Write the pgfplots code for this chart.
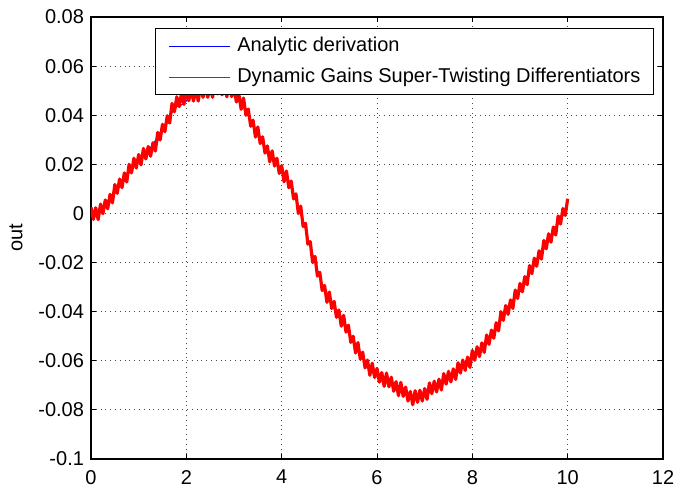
\documentclass[border=0pt]{standalone}
\usepackage{pgfplots}
\pgfplotsset{compat=1.18}
\usepackage{fontspec}
\setmainfont{Liberation Sans}
\usetikzlibrary{calc}
\begin{document}
\fontsize{10}{12}\selectfont
\begin{tikzpicture}
\begin{axis}[
  at={(0,0)}, anchor=south west,
  scale only axis,
  width=286pt, height=221pt,
  xmin=0, xmax=12, ymin=-0.1, ymax=0.08,
  xtick={0,2,4,6,8,10,12},
  ytick={-0.1,-0.08,-0.06,-0.04,-0.02,0,0.02,0.04,0.06,0.08},
  yticklabels={-0.1,-0.08,-0.06,-0.04,-0.02,0,0.02,0.04,0.06,0.08},
  /pgf/number format/assume math mode=true,
  tick align=inside, tick pos=both,
  major tick length=2.5pt,
  every tick/.style={black, line width=0.5pt},
  axis line style={black, line width=0.8pt},
  grid=major,
  grid style={dotted, black!70, line width=0.5pt},
  tick label style={font=\fontsize{10}{12}\selectfont},
  xticklabel style={yshift=-2pt},
  ylabel={out},
  every axis y label/.style={at={(axis description cs:-0.131,0.5)}, rotate=90, anchor=center, font=\fontsize{10}{12}\selectfont},
  legend cell align=left,
  legend image code/.code={\draw[#1, line width=0.5pt] (0pt,0pt) -- (30.5pt,0pt);},
  legend style={at={(rel axis cs:1,1)}, anchor=north east, xshift=-4.5pt, yshift=-5.5pt,
    draw=black, line width=0.6pt, fill=white, inner xsep=6.5pt, inner ysep=4pt,
    row sep=6pt, column sep=3.5pt,
    nodes={inner sep=0pt, text height=7.5pt, text depth=2pt, font=\fontsize{10}{12}\selectfont}},
]
\addplot[blue, line width=0.5pt] coordinates {
(0.0,0.0000)(0.1,0.0005)(0.2,0.0015)(0.3,0.0045)(0.4,0.0062)(0.5,0.0085)(0.6,0.0112)(0.7,0.0142)(0.8,0.0168)(0.9,0.0198)
(1.0,0.0218)(1.1,0.0236)(1.2,0.0255)(1.3,0.0282)(1.4,0.0312)(1.5,0.0342)(1.6,0.0378)(1.7,0.0412)(1.8,0.0435)(1.9,0.0442)
(2.0,0.0458)(2.1,0.0480)(2.2,0.0485)(2.3,0.0490)(2.4,0.0495)(2.5,0.0500)(2.6,0.0505)(2.7,0.0508)(2.8,0.0508)(2.9,0.0502)
(3.0,0.0490)(3.1,0.0468)(3.2,0.0440)(3.3,0.0400)(3.4,0.0360)(3.5,0.0322)(3.6,0.0287)(3.7,0.0255)(3.8,0.0225)(3.9,0.0200)
(4.0,0.0175)(4.1,0.0143)(4.2,0.0107)(4.3,0.0060)(4.4,0.0000)(4.5,-0.0065)(4.6,-0.0135)(4.7,-0.0198)(4.8,-0.0260)(4.9,-0.0310)
(5.0,-0.0350)(5.1,-0.0383)(5.2,-0.0413)(5.3,-0.0445)(5.4,-0.0480)(5.5,-0.0520)(5.6,-0.0556)(5.7,-0.0590)(5.8,-0.0617)(5.9,-0.0640)
(6.0,-0.0656)(6.1,-0.0668)(6.2,-0.0680)(6.3,-0.0692)(6.4,-0.0705)(6.5,-0.0718)(6.6,-0.0732)(6.7,-0.0745)(6.8,-0.0752)(6.9,-0.0745)
(7.0,-0.0733)(7.1,-0.0720)(7.2,-0.0708)(7.3,-0.0695)(7.4,-0.0682)(7.5,-0.0668)(7.6,-0.0653)(7.7,-0.0638)(7.8,-0.0622)(7.9,-0.0605)
(8.0,-0.0588)(8.1,-0.0568)(8.2,-0.0547)(8.3,-0.0525)(8.4,-0.0500)(8.5,-0.0465)(8.6,-0.0430)(8.7,-0.0400)(8.8,-0.0372)(8.9,-0.0342)
(9.0,-0.0310)(9.1,-0.0277)(9.2,-0.0242)(9.3,-0.0207)(9.4,-0.0172)(9.5,-0.0140)(9.6,-0.0108)(9.7,-0.0075)(9.8,-0.0040)(9.9,-0.0005)
(10.0,0.0040)
};
\addlegendentry{Analytic derivation}
\addplot[red, line width=1.6pt, line join=round] coordinates {
(0.00,0.0025)(0.05,-0.0024)(0.10,0.0023)(0.15,-0.0025)(0.20,0.0038)(0.25,-0.0001)(0.30,0.0055)(0.35,0.0019)(0.40,0.0078)(0.45,0.0043)
(0.50,0.0118)(0.55,0.0082)(0.60,0.0140)(0.65,0.0105)(0.70,0.0165)(0.75,0.0128)(0.80,0.0200)(0.85,0.0165)(0.90,0.0225)(0.95,0.0185)
(1.00,0.0240)(1.05,0.0198)(1.10,0.0265)(1.15,0.0222)(1.20,0.0273)(1.25,0.0233)(1.30,0.0288)(1.35,0.0254)(1.40,0.0330)(1.45,0.0299)
(1.50,0.0363)(1.55,0.0333)(1.60,0.0398)(1.65,0.0368)(1.70,0.0448)(1.75,0.0414)(1.80,0.0475)(1.85,0.0435)(1.90,0.0490)(1.95,0.0444)
(2.00,0.0508)(2.05,0.0459)(2.10,0.0505)(2.15,0.0458)(2.20,0.0505)(2.25,0.0458)(2.30,0.0520)(2.35,0.0473)(2.40,0.0520)(2.45,0.0473)
(2.50,0.0520)(2.55,0.0473)(2.60,0.0535)(2.65,0.0487)(2.70,0.0533)(2.75,0.0483)(2.80,0.0528)(2.85,0.0475)(2.90,0.0532)(2.95,0.0476)
(3.00,0.0515)(3.05,0.0454)(3.10,0.0488)(3.15,0.0424)(3.20,0.0470)(3.25,0.0400)(3.30,0.0425)(3.35,0.0355)(3.40,0.0380)(3.45,0.0311)
(3.50,0.0352)(3.55,0.0285)(3.60,0.0312)(3.65,0.0246)(3.70,0.0275)(3.75,0.0210)(3.80,0.0255)(3.85,0.0193)(3.90,0.0225)(3.95,0.0163)
(4.00,0.0195)(4.05,0.0129)(4.10,0.0173)(4.15,0.0105)(4.20,0.0132)(4.25,0.0059)(4.30,0.0080)(4.35,0.0000)(4.40,0.0030)(4.45,-0.0053)
(4.50,-0.0040)(4.55,-0.0125)(4.60,-0.0115)(4.65,-0.0200)(4.70,-0.0175)(4.75,-0.0255)(4.80,-0.0240)(4.85,-0.0314)(4.90,-0.0293)(4.95,-0.0362)
(5.00,-0.0320)(5.05,-0.0387)(5.10,-0.0358)(5.15,-0.0423)(5.20,-0.0393)(5.25,-0.0459)(5.30,-0.0415)(5.35,-0.0483)(5.40,-0.0455)(5.45,-0.0525)
(5.50,-0.0500)(5.55,-0.0568)(5.60,-0.0526)(5.65,-0.0593)(5.70,-0.0565)(5.75,-0.0629)(5.80,-0.0597)(5.85,-0.0659)(5.90,-0.0610)(5.95,-0.0668)
(6.00,-0.0631)(6.05,-0.0687)(6.10,-0.0648)(6.15,-0.0704)(6.20,-0.0650)(6.25,-0.0706)(6.30,-0.0667)(6.35,-0.0724)(6.40,-0.0685)(6.45,-0.0742)
(6.50,-0.0688)(6.55,-0.0745)(6.60,-0.0707)(6.65,-0.0764)(6.70,-0.0725)(6.75,-0.0779)(6.80,-0.0722)(6.85,-0.0769)(6.90,-0.0720)(6.95,-0.0764)
(7.00,-0.0713)(7.05,-0.0757)(7.10,-0.0690)(7.15,-0.0734)(7.20,-0.0683)(7.25,-0.0727)(7.30,-0.0675)(7.35,-0.0719)(7.40,-0.0652)(7.45,-0.0695)
(7.50,-0.0643)(7.55,-0.0686)(7.60,-0.0633)(7.65,-0.0676)(7.70,-0.0608)(7.75,-0.0650)(7.80,-0.0597)(7.85,-0.0639)(7.90,-0.0585)(7.95,-0.0627)
(8.00,-0.0558)(8.05,-0.0598)(8.10,-0.0543)(8.15,-0.0583)(8.20,-0.0527)(8.25,-0.0566)(8.30,-0.0495)(8.35,-0.0533)(8.40,-0.0475)(8.45,-0.0508)
(8.50,-0.0445)(8.55,-0.0478)(8.60,-0.0400)(8.65,-0.0435)(8.70,-0.0375)(8.75,-0.0411)(8.80,-0.0352)(8.85,-0.0387)(8.90,-0.0312)(8.95,-0.0346)
(9.00,-0.0285)(9.05,-0.0319)(9.10,-0.0257)(9.15,-0.0290)(9.20,-0.0212)(9.25,-0.0245)(9.30,-0.0182)(9.35,-0.0215)(9.40,-0.0152)(9.45,-0.0186)
(9.50,-0.0110)(9.55,-0.0144)(9.60,-0.0083)(9.65,-0.0117)(9.70,-0.0055)(9.75,-0.0088)(9.80,-0.0010)(9.85,-0.0043)(9.90,0.0020)(9.95,-0.0008)
(10.00,0.0060)
};
\addlegendentry{Dynamic Gains Super-Twisting Differentiators}
\end{axis}
\pgfresetboundingbox
\useasboundingbox ($(current axis.south west)+(-45.5pt,-17.5pt)$) rectangle ($(current axis.north east)+(6pt,8.5pt)$);
\end{tikzpicture}
\end{document}
